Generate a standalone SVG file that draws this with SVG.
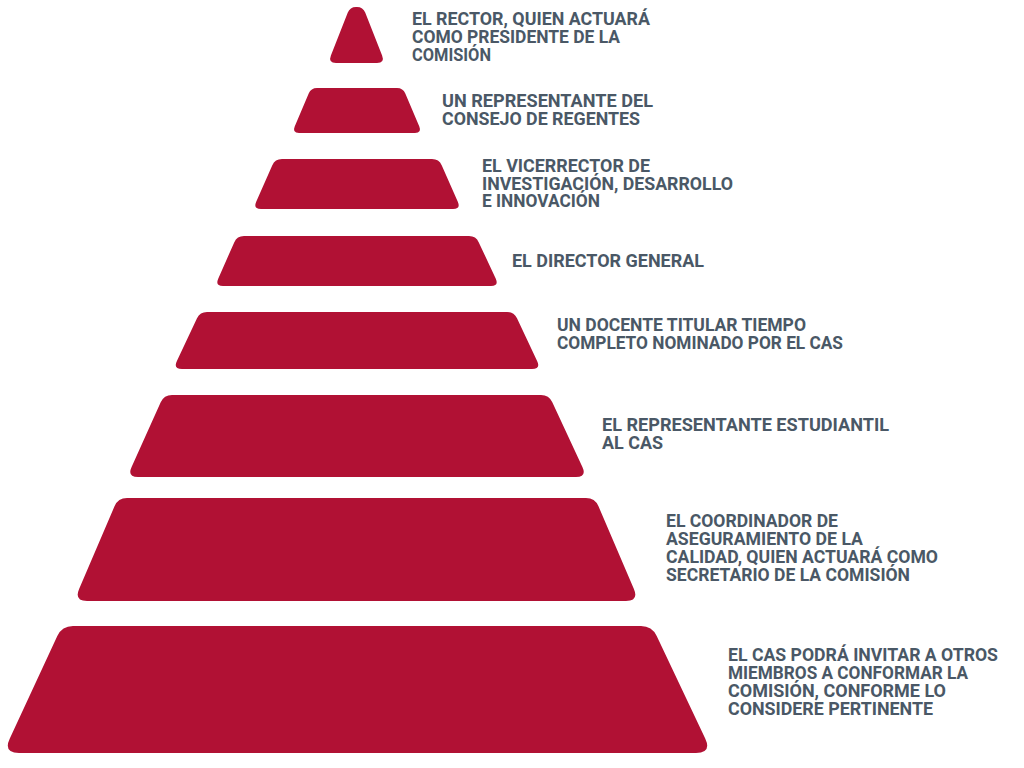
<svg xmlns="http://www.w3.org/2000/svg" width="1024" height="768" viewBox="0 0 1024 768">
<style>
.tier{fill:#B11134;}
.lbl{font-family:Roboto,"Liberation Sans",Arial,sans-serif;font-weight:700;font-size:18px;fill:#4A5866;}
</style>
<rect width="1024" height="768" fill="#FFFFFF"/>
<g id="tier1">
<path class="tier" d="M356,7 L357,7 Q363,7 365.2,12.6 L382.1,55.6 Q385,63 377,63 L336,63 Q328,63 330.9,55.6 L347.8,12.6 Q350,7 356,7 Z"/>
<text class="lbl" x="412" y="25" textLength="238" lengthAdjust="spacingAndGlyphs">EL RECTOR, QUIEN ACTUARÁ</text>
<text class="lbl" x="412" y="43" textLength="208" lengthAdjust="spacingAndGlyphs">COMO PRESIDENTE DE LA</text>
<text class="lbl" x="412" y="61" textLength="79" lengthAdjust="spacingAndGlyphs">COMISIÓN</text>
</g>
<g id="tier2">
<path class="tier" d="M317,88 L397,88 Q403,88 405.3,93.5 L419.3,126.5 Q422,133 415,133 L299,133 Q292,133 294.7,126.5 L308.7,93.5 Q311,88 317,88 Z"/>
<text class="lbl" x="442" y="107" textLength="211" lengthAdjust="spacingAndGlyphs">UN REPRESENTANTE DEL</text>
<text class="lbl" x="442" y="125" textLength="198" lengthAdjust="spacingAndGlyphs">CONSEJO DE REGENTES</text>
</g>
<g id="tier3">
<path class="tier" d="M282,159 L432,159 Q439,159 441.8,165.4 L457.8,201.7 Q461,209 453,209 L261,209 Q253,209 256.2,201.7 L272.2,165.4 Q275,159 282,159 Z"/>
<text class="lbl" x="482" y="172" textLength="168" lengthAdjust="spacingAndGlyphs">EL VICERRECTOR DE</text>
<text class="lbl" x="482" y="190" textLength="251" lengthAdjust="spacingAndGlyphs">INVESTIGACIÓN, DESARROLLO</text>
<text class="lbl" x="482" y="207" textLength="118" lengthAdjust="spacingAndGlyphs">E INNOVACIÓN</text>
</g>
<g id="tier4">
<path class="tier" d="M244,236 L469,236 Q476,236 478.8,242.4 L495.8,278.7 Q499,286 491,286 L223,286 Q215,286 218.2,278.7 L234.2,242.4 Q237,236 244,236 Z"/>
<text class="lbl" x="512" y="267" textLength="192" lengthAdjust="spacingAndGlyphs">EL DIRECTOR GENERAL</text>
</g>
<g id="tier5">
<path class="tier" d="M207,312 L507,312 Q514,312 517,318.3 L537.1,360.9 Q541,369 532,369 L182,369 Q173,369 176.9,360.9 L197,318.3 Q200,312 207,312 Z"/>
<text class="lbl" x="557" y="331" textLength="249" lengthAdjust="spacingAndGlyphs">UN DOCENTE TITULAR TIEMPO</text>
<text class="lbl" x="557" y="349" textLength="286" lengthAdjust="spacingAndGlyphs">COMPLETO NOMINADO POR EL CAS</text>
</g>
<g id="tier6">
<path class="tier" d="M172,395 L541,395 Q549,395 552.3,402.3 L582.4,467 Q587,477 576,477 L138,477 Q127,477 131.6,467 L160.7,402.3 Q164,395 172,395 Z"/>
<text class="lbl" x="602" y="431" textLength="287" lengthAdjust="spacingAndGlyphs">EL REPRESENTANTE ESTUDIANTIL</text>
<text class="lbl" x="602" y="448.5" textLength="61" lengthAdjust="spacingAndGlyphs">AL CAS</text>
</g>
<g id="tier7">
<path class="tier" d="M127,498 L586,498 Q595,498 598.5,506.3 L633.9,589 Q639,601 626,601 L87,601 Q74,601 79.1,589 L114.5,506.3 Q118,498 127,498 Z"/>
<text class="lbl" x="666" y="527" textLength="172" lengthAdjust="spacingAndGlyphs">EL COORDINADOR DE</text>
<text class="lbl" x="666" y="545" textLength="197" lengthAdjust="spacingAndGlyphs">ASEGURAMIENTO DE LA</text>
<text class="lbl" x="666" y="563" textLength="272" lengthAdjust="spacingAndGlyphs">CALIDAD, QUIEN ACTUARÁ COMO</text>
<text class="lbl" x="666" y="581" textLength="244" lengthAdjust="spacingAndGlyphs">SECRETARIO DE LA COMISIÓN</text>
</g>
<g id="tier8">
<path class="tier" d="M73,626 L641,626 Q652,626 656.7,636 L705.2,738.5 Q712,753 696,753 L19,753 Q3,753 9.8,738.5 L57.3,636 Q62,626 73,626 Z"/>
<text class="lbl" x="728" y="661" textLength="270" lengthAdjust="spacingAndGlyphs">EL CAS PODRÁ INVITAR A OTROS</text>
<text class="lbl" x="728" y="679" textLength="240" lengthAdjust="spacingAndGlyphs">MIEMBROS A CONFORMAR LA</text>
<text class="lbl" x="728" y="697" textLength="218" lengthAdjust="spacingAndGlyphs">COMISIÓN, CONFORME LO</text>
<text class="lbl" x="728" y="715" textLength="205" lengthAdjust="spacingAndGlyphs">CONSIDERE PERTINENTE</text>
</g>
</svg>
